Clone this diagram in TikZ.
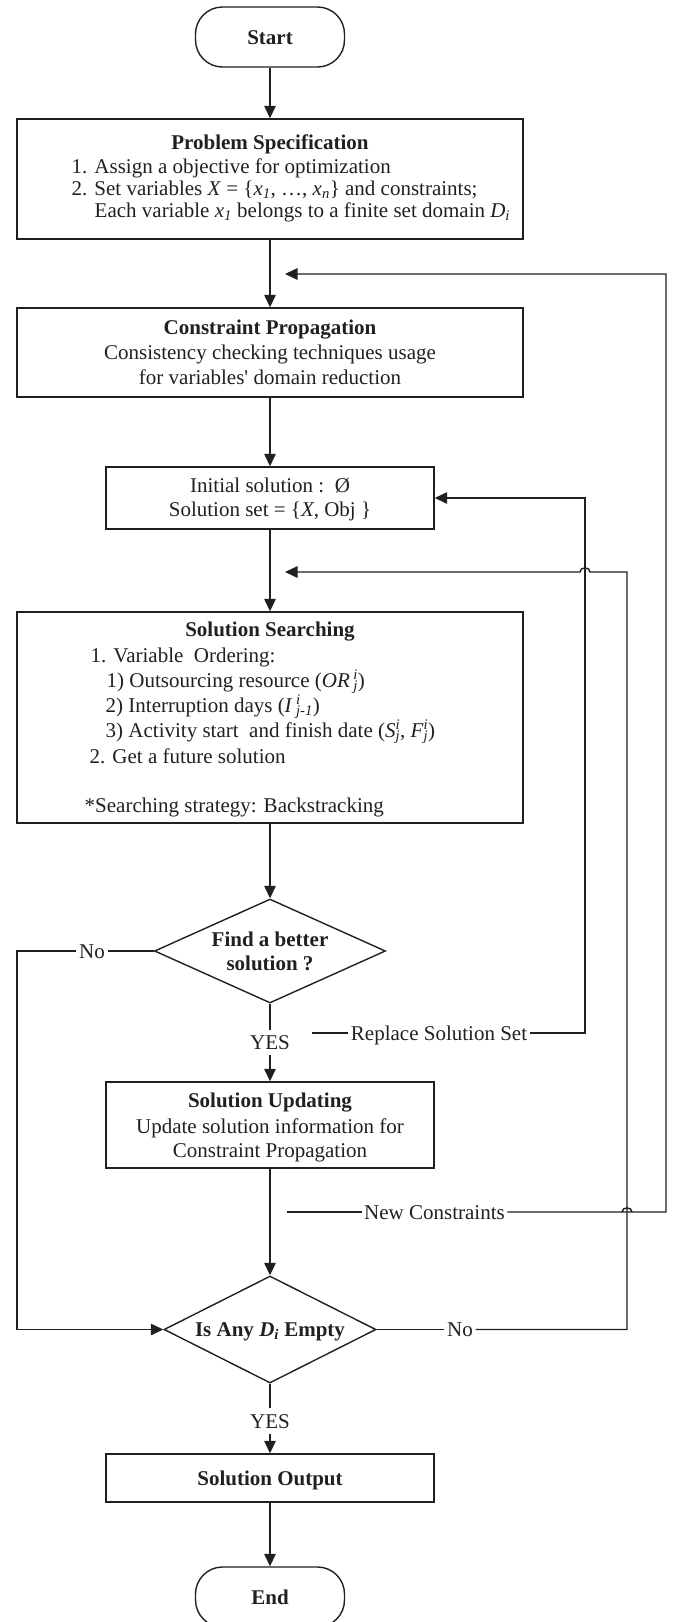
\documentclass[tikz,border=0pt]{standalone}
\usepackage{fontspec}
\setmainfont{Liberation Serif}
\usetikzlibrary{arrows.meta,shapes.geometric}
\definecolor{ink}{RGB}{35,31,32}
\newcommand\SubSup[2]{\smash{\rlap{\textsuperscript{\textit{#1}}}\textsubscript{\textit{#2}}}}
\begin{document}
\begin{tikzpicture}[x=1pt,y=-1pt,line width=1.4pt,color=ink,
  tx/.style={font=\fontsize{21pt}{25pt}\selectfont,inner sep=0pt,anchor=base},
  txw/.style={tx,anchor=base west},
  box/.style={draw,rectangle,inner sep=0pt},
  term/.style={draw,rectangle,rounded corners=27pt,inner sep=0pt,minimum width=149pt,minimum height=60pt},
  dia/.style={draw,diamond,inner sep=0pt},
  lab/.style={font=\fontsize{21pt}{25pt}\selectfont,text height=14pt,text depth=0pt,inner sep=2pt},
  yeslab/.style={lab,inner ysep=5pt},
  arr/.style={-{Triangle[length=12.5pt,width=11.5pt]}}]
\useasboundingbox (0,0) rectangle (672,1622);

% ---- shapes
\node[term] (start) at (270,37) {};
\node[tx] (startt) at (270,44) {\textbf{Start}};

\node[box,minimum width=506pt,minimum height=120pt] (ps) at (270,179) {};
\node[tx] (ps0) at (270,149) {\textbf{Problem Specification}};
\node[txw] (ps1) at (71,173) {1. Assign a objective for optimization};
\node[txw] (ps2) at (71,195) {2. Set variables \textit{X} = \{\textit{x}\textsubscript{\textit{1}}, …, \textit{x}\textsubscript{\textit{n}}\} and constraints;};
\node[txw] (ps3) at (94,217) {Each variable \textit{x}\textsubscript{\textit{1}} belongs to a finite set domain \textit{D}\textsubscript{\textit{i}}};

\node[box,minimum width=506pt,minimum height=89pt] (cp) at (270,352.5) {};
\node[tx] (cp0) at (270,334) {\textbf{Constraint Propagation}};
\node[tx] (cp1) at (270,359) {Consistency checking techniques usage};
\node[tx] (cp2) at (270,384) {for variables\textquotesingle\ domain reduction};

\node[box,minimum width=328pt,minimum height=62pt] (init) at (270,498) {};
\node[tx] (init1) at (270,492) {Initial solution :\ \ Ø};
\node[tx] (init2) at (270,516) {Solution set = \{\textit{X}, Obj \}};

\node[box,minimum width=506pt,minimum height=211pt] (ss) at (270,717.5) {};
\node[tx] (ss0) at (270,636) {\textbf{Solution Searching}};
\node[txw] (ss1) at (90,662) {1. Variable\ \ Ordering:};
\node[txw] (ss2) at (106,687) {1) Outsourcing resource (\textit{OR}\,\SubSup{i}{j})};
\node[txw] (ss3) at (105,712) {2) Interruption days (\textit{I}\,\SubSup{i}{j-1})};
\node[txw] (ss4) at (105,737) {3) Activity start\ \ and finish date (\textit{S}\SubSup{i}{j}, \textit{F}\SubSup{i}{j})};
\node[txw] (ss5) at (89,763) {2. Get a future solution};
\node[txw] (ss6) at (84,812) {*Searching strategy: Backstracking};

\node[dia,minimum width=231pt,minimum height=104pt] (d1) at (270,951) {};
\node[tx] (d1a) at (270,946) {\textbf{Find a better}};
\node[tx] (d1b) at (270,970) {\textbf{solution ?}};

\node[yeslab] (yes1) at (270,1042.5) {YES};

\node[box,minimum width=328pt,minimum height=86pt] (su) at (270,1125) {};
\node[tx] (su0) at (270,1107) {\textbf{Solution Updating}};
\node[tx] (su1) at (270,1133) {Update solution information for};
\node[tx] (su2) at (270,1157) {Constraint Propagation};

\node[dia,minimum width=212pt,minimum height=107pt] (d2) at (270,1329.5) {};
\node[tx] (d2t) at (270,1336.5) {\textbf{Is Any \textit{D}\textsubscript{\textit{i}} Empty}};

\node[yeslab] (yes2) at (270,1421) {YES};

\node[box,minimum width=328pt,minimum height=48pt] (out) at (270,1478) {};
\node[tx] (outt) at (270,1485) {\textbf{Solution Output}};

\node[term] (end) at (270,1597) {};
\node[tx] (endt) at (270,1604) {\textbf{End}};

% ---- labels on side connectors
\node[lab] (no1) at (92,951) {No};
\node[lab] (no2) at (460,1329.5) {No};
\node[lab] (rs) at (439,1033) {Replace Solution Set};
\node[lab] (nc) at (434.5,1212) {New Constraints};

% ---- free ends and bends
\coordinate (cL1) at (17,951);
\coordinate (cL2) at (17,1329.5);
\coordinate (cR1) at (627,1329.5);
\coordinate (cR2) at (627,572);
\coordinate (t2) at (285,572);
\coordinate (r0) at (312,1033);
\coordinate (r1) at (585,1033);
\coordinate (r2) at (585,498);
\coordinate (n0) at (287,1212);
\coordinate (n1) at (666,1212);
\coordinate (n2) at (666,274);
\coordinate (t1) at (285,274);

% ---- main flow
\draw[arr] (start) -- (ps);
\draw[arr] (ps) -- (cp);
\draw[arr] (cp) -- (init);
\draw[arr] (init) -- (ss);
\draw[arr] (ss) -- (d1);
\draw (d1) -- (yes1);
\draw[arr] (yes1) -- (su);
\draw[arr] (su) -- (d2);
\draw (d2) -- (yes2);
\draw[arr] (yes2) -- (out);
\draw[arr] (out) -- (end);

% ---- side flows
\draw (d1.west) -- (no1);
\draw[arr] (no1) -- (cL1) -- (cL2) -- (d2.west);

\draw (d2.east) -- (no2);
\draw[arr] (no2) -- (cR1) -- (cR2) -- (590,572) .. controls (590,566.5) and (580,566.5) .. (580,572) -- (t2);

\draw (r0) -- (rs);
\draw[arr] (rs) -- (r1) -- (r2) -- (init.east);

\draw (n0) -- (nc);
\draw[arr] (nc) -- (632,1212) .. controls (632,1206.5) and (622,1206.5) .. (622,1212) -- (n1) -- (n2) -- (t1);
\end{tikzpicture}
\end{document}
